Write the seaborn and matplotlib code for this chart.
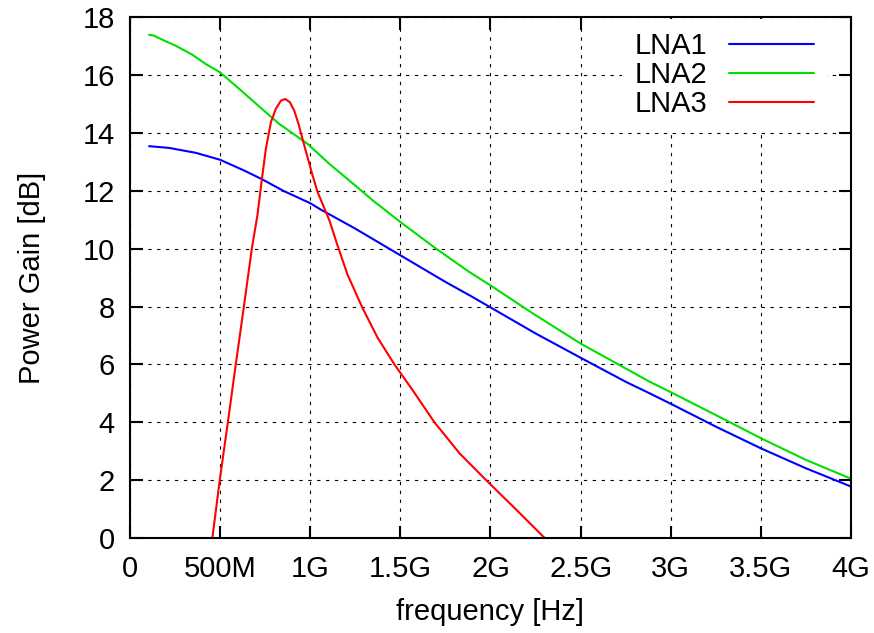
import matplotlib
matplotlib.use("Agg")
import matplotlib.pyplot as plt
import seaborn as sns
import pandas as pd

# frequency in GHz, gain in dB
freq_lna1 = [0.106, 0.217, 0.365, 0.5, 0.633, 0.735, 0.85, 1.0, 1.05, 1.25, 1.5, 1.75, 1.883, 2.0,
             2.25, 2.5, 2.75, 2.883, 3.0, 3.25, 3.5, 3.75, 4.0]
gain_lna1 = [13.54, 13.48, 13.31, 13.07, 12.7, 12.39, 12.0, 11.57, 11.38, 10.69, 9.77, 8.85, 8.39, 7.97,
             7.07, 6.23, 5.4, 5.0, 4.64, 3.85, 3.1, 2.41, 1.78]

freq_lna2 = [0.106, 0.133, 0.179, 0.254, 0.346, 0.42, 0.5, 0.606, 0.717, 0.828, 0.985, 1.106, 1.25,
             1.346, 1.5, 1.698, 1.883, 2.0, 2.25, 2.5, 2.75, 2.883, 3.0, 3.25, 3.5, 3.75, 4.0]
gain_lna2 = [17.39, 17.36, 17.22, 17.01, 16.7, 16.38, 16.09, 15.52, 14.91, 14.31, 13.62, 12.93, 12.18,
             11.67, 10.92, 10.0, 9.19, 8.73, 7.7, 6.72, 5.86, 5.4, 5.04, 4.25, 3.45, 2.7, 2.05]

freq_lna3 = [0.44, 0.457, 0.498, 0.543, 0.587, 0.632, 0.676, 0.707, 0.732, 0.754, 0.782, 0.809, 0.837,
             0.861, 0.887, 0.911, 0.935, 0.957, 0.985, 1.013, 1.041, 1.068, 1.106, 1.152, 1.207, 1.29,
             1.374, 1.467, 1.568, 1.689, 1.828, 1.976, 2.143, 2.291, 2.32]
gain_lna3 = [-0.8, 0.0, 2.0, 4.0, 6.0, 8.0, 10.0, 11.15, 12.41, 13.45, 14.37, 14.83, 15.11,
             15.17, 15.06, 14.77, 14.31, 13.79, 13.16, 12.53, 11.95, 11.55, 10.98, 10.1, 9.1, 7.95,
             6.92, 6.0, 5.11, 4.0, 2.93, 2.0, 0.98, 0.06, -0.1]

xticks = [0, 0.5, 1, 1.5, 2, 2.5, 3, 3.5, 4]
xticklabels = ['0', '500M', '1G', '1.5G', '2G', '2.5G', '3G', '3.5G', '4G']
yticks = [0, 2, 4, 6, 8, 10, 12, 14, 16, 18]

sns.set_style("ticks")
plt.rcParams['font.family'] = ['Liberation Sans', 'DejaVu Sans']
plt.rcParams['font.size'] = 21
plt.rcParams['text.color'] = 'black'
plt.rcParams['axes.labelcolor'] = 'black'

fig = plt.figure(figsize=(8.74, 6.33), dpi=100)
ax = fig.add_axes([0.1487, 0.150, 0.825, 0.823])

series = [('LNA1', freq_lna1, gain_lna1, '#0000ff'),
          ('LNA2', freq_lna2, gain_lna2, '#00e000'),
          ('LNA3', freq_lna3, gain_lna3, '#ff0000')]
for name, f, g, c in series:
    d = pd.DataFrame({'f': f, 'g': g})
    sns.lineplot(data=d, x='f', y='g', ax=ax, color=c, linewidth=1.5, label=name,
                 estimator=None, sort=False)

ax.set_xlim(0, 4)
ax.set_ylim(0, 18)
ax.set_xticks(xticks)
ax.set_xticklabels(xticklabels)
ax.set_yticks(yticks)
ax.grid(True, color='black', linestyle=(0, (3, 5)), linewidth=0.8)
ax.tick_params(direction='in', length=9, width=1.5, top=True, right=True,
               labelsize=21, colors='black')
ax.tick_params(axis='x', pad=12)
ax.tick_params(axis='y', pad=11)
for s in ax.spines.values():
    s.set_linewidth(1.5)
    s.set_color('black')
    s.set_visible(True)

ax.set_xlabel('frequency [Hz]', fontsize=21, labelpad=11)
ax.set_ylabel('Power Gain [dB]', fontsize=21, labelpad=26)

# gnuplot-style key: white box without border, sample line after the text
leg = ax.legend(loc='upper right', bbox_to_anchor=(0.975, 1.007), frameon=True, markerfirst=False,
                handlelength=2.9, labelspacing=0.03, handletextpad=0.75, borderaxespad=0.2,
                borderpad=0.45, fontsize=21, fancybox=False, framealpha=1.0,
                facecolor='white', edgecolor='none')

fig.savefig('out.png', dpi=100)
